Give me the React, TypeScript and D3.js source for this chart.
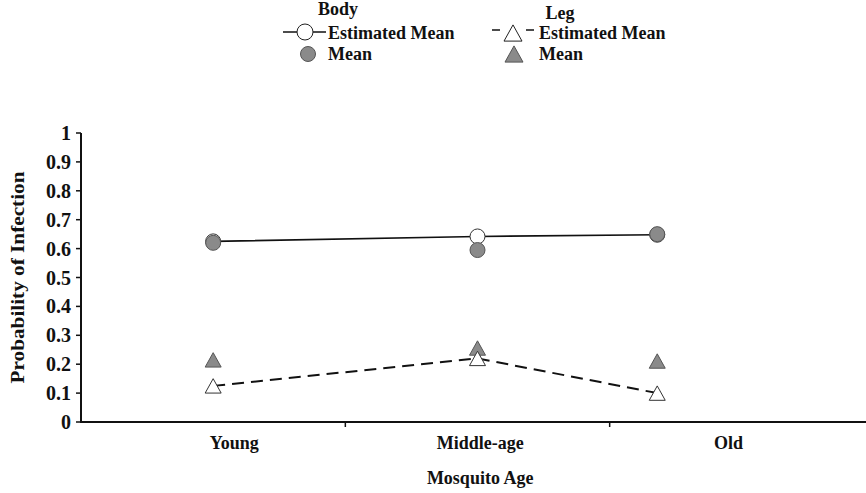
import React from "react";
import * as d3 from "d3";

// categories and where each one sits on the axis (in band units)
const ages = ["Young", "Middle-age", "Old"];
const agePos = [0.5, 1.5, 2.18];
const labelPos = [0.58, 1.51, 2.45];

// series values
const bodyEstimated = [0.625, 0.642, 0.648];
const bodyMean = [0.62, 0.595, 0.65];
const legEstimated = [0.125, 0.22, 0.1];
const legMean = [0.215, 0.256, 0.211];

const yTicks = [0, 0.1, 0.2, 0.3, 0.4, 0.5, 0.6, 0.7, 0.8, 0.9, 1];

const W = 866;
const H = 493;
const FONT = "'Liberation Serif', 'Times New Roman', serif";
const FS = 18;

function tri(cx: number, cy: number, s: number) {
  const h = s * 0.9;
  return `M${cx},${cy - h / 2}L${cx + s / 2},${cy + h / 2}L${cx - s / 2},${cy + h / 2}Z`;
}

export default function App() {
  const x = d3.scaleLinear().domain([0, 3]).range([81, 874]);
  const y = d3.scaleLinear().domain([0, 1]).range([422, 133]);

  const line = d3
    .line<number>()
    .x((d, i) => x(agePos[i]))
    .y((d) => y(d));

  const grey = "#8a8a8a";

  return (
    <svg
      width={W}
      height={H}
      style={{ position: "absolute", left: 0, top: 0, background: "#fff" }}
      fontFamily={FONT}
      fontWeight="bold"
    >
      {/* legend */}
      <g fontSize={FS} fill="#111">
        <text x={338} y={15} textAnchor="middle">Body</text>
        <line x1={283} x2={326} y1={32} y2={32} stroke="#111" strokeWidth={1.5} />
        <circle cx={305} cy={32} r={8} fill="#fff" stroke="#222" strokeWidth={1} />
        <text x={328} y={39}>Estimated Mean</text>
        <circle cx={308} cy={54} r={7.5} fill={grey} stroke="#555" strokeWidth={1} />
        <text x={328} y={60}>Mean</text>

        <text x={560} y={19} textAnchor="middle">Leg</text>
        <line x1={492} x2={500} y1={30} y2={30} stroke="#111" strokeWidth={1.5} />
        <line x1={526} x2={534} y1={30} y2={30} stroke="#111" strokeWidth={1.5} />
        <path d={tri(513, 33, 18)} fill="#fff" stroke="#222" strokeWidth={1} />
        <text x={539} y={39}>Estimated Mean</text>
        <path d={tri(514, 54, 18)} fill={grey} stroke="#555" strokeWidth={1} />
        <text x={539} y={60}>Mean</text>
      </g>

      {/* y axis */}
      <line x1={81} x2={81} y1={133} y2={423} stroke="#111" strokeWidth={2} />
      {yTicks.map((t) => (
        <g key={t}>
          <line x1={76} x2={81} y1={y(t)} y2={y(t)} stroke="#111" strokeWidth={1.5} />
          <text x={71} y={y(t) + 7} textAnchor="end" fontSize={20} fill="#111">
            {t === 0 || t === 1 ? String(t) : t.toFixed(1)}
          </text>
        </g>
      ))}
      <text
        transform={`translate(24,${y(0.5)}) rotate(-90)`}
        textAnchor="middle"
        fontSize={FS}
        fill="#111"
        textLength={212}
        lengthAdjust="spacingAndGlyphs"
      >
        Probability of Infection
      </text>

      {/* x axis */}
      <line x1={80} x2={W} y1={422} y2={422} stroke="#111" strokeWidth={2.2} />
      {[1, 2].map((t) => (
        <line key={t} x1={x(t)} x2={x(t)} y1={422} y2={427} stroke="#111" strokeWidth={1.5} />
      ))}
      {ages.map((a, i) => (
        <text key={a} x={x(labelPos[i])} y={449} textAnchor="middle" fontSize={FS} fill="#111">
          {a}
        </text>
      ))}
      <text x={x(1.51)} y={484} textAnchor="middle" fontSize={FS} fill="#111">
        Mosquito Age
      </text>

      {/* body */}
      <path d={line(bodyEstimated) || ""} fill="none" stroke="#111" strokeWidth={1.6} />
      {bodyEstimated.map((v, i) => (
        <circle key={"be" + i} cx={x(agePos[i])} cy={y(v)} r={7.5} fill="#fff" stroke="#333" strokeWidth={1} />
      ))}
      {bodyMean.map((v, i) => (
        <circle key={"bm" + i} cx={x(agePos[i])} cy={y(v)} r={7.5} fill={grey} stroke="#555" strokeWidth={1} />
      ))}

      {/* leg */}
      <path
        d={line(legEstimated) || ""}
        fill="none"
        stroke="#111"
        strokeWidth={2}
        strokeDasharray="12,7"
      />
      {legMean.map((v, i) => (
        <path key={"lm" + i} d={tri(x(agePos[i]), y(v), 16)} fill={grey} stroke="#555" strokeWidth={1} />
      ))}
      {legEstimated.map((v, i) => (
        <path key={"le" + i} d={tri(x(agePos[i]), y(v), 16)} fill="#fff" stroke="#333" strokeWidth={1} />
      ))}
    </svg>
  );
}
